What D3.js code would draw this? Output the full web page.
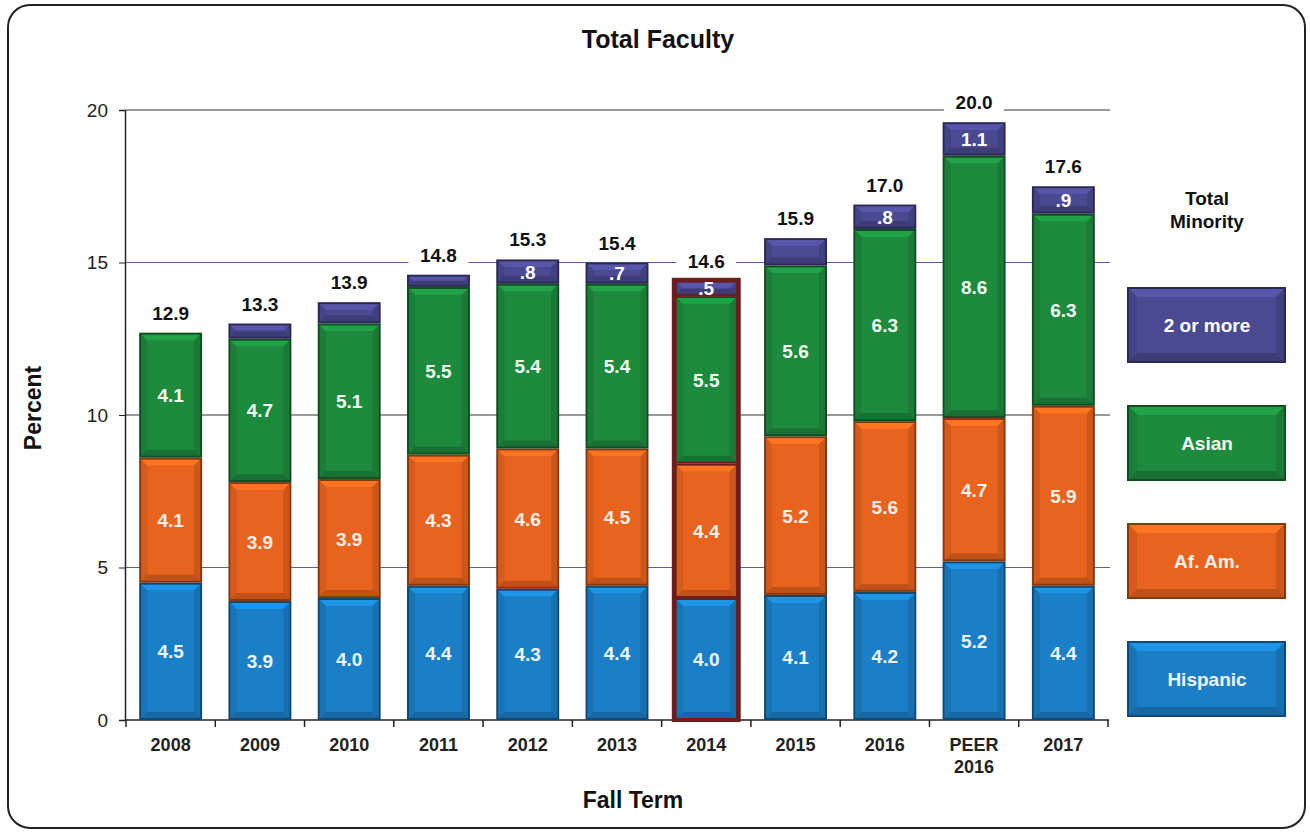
<!DOCTYPE html>
<html lang="en">
<head>
<meta charset="UTF-8" />
<title>Total Faculty</title>
<script src="https://cdn.jsdelivr.net/npm/d3@7"></script>
<style>
  body { margin: 0; background: #fff; }
  text { font-family: Arial, "Liberation Sans", sans-serif; }
</style>
</head>
<body>
<script>
// data
var categories = ["2008", "2009", "2010", "2011", "2012", "2013", "2014", "2015", "2016", "PEER 2016", "2017"];
var hispanic  = [4.5, 3.9, 4.0, 4.4, 4.3, 4.4, 4.0, 4.1, 4.2, 5.2, 4.4];
var afAm      = [4.1, 3.9, 3.9, 4.3, 4.6, 4.5, 4.4, 5.2, 5.6, 4.7, 5.9];
var asian     = [4.1, 4.7, 5.1, 5.5, 5.4, 5.4, 5.5, 5.6, 6.3, 8.6, 6.3];
var twoOrMore = [0.0, 0.5, 0.7, 0.4, 0.8, 0.7, 0.5, 0.9, 0.8, 1.1, 0.9];
var showTwo   = [false, false, false, false, true, true, true, false, true, true, true];
var totals    = [12.9, 13.3, 13.9, 14.8, 15.3, 15.4, 14.6, 15.9, 17.0, 20.0, 17.6];
var highlight = "2014";
var yTicks = [0, 5, 10, 15, 20];

var seriesKeys = ["hispanic", "afAm", "asian", "two"];
var seriesNames = {hispanic: "Hispanic", afAm: "Af. Am.", asian: "Asian", two: "2 or more"};
var colors = {hispanic: "#1a7fc6", afAm: "#e8631d", asian: "#1d8a3d", two: "#4a4992"};
var textCol = {hispanic: "#eef6ff", afAm: "#fff0ec", asian: "#f2fff4", two: "#ffffff"};

var rows = categories.map(function(c, i) {
    return {cat: c, hispanic: hispanic[i], afAm: afAm[i], asian: asian[i], two: twoOrMore[i], i: i};
});

var W = 1310, H = 833;
var svg = d3.select("body").append("svg").attr("width", W).attr("height", H);

// outer frame
svg.append("rect").attr("x", 8).attr("y", 5).attr("width", 1297).attr("height", 823)
    .attr("rx", 22).attr("fill", "#fff").attr("stroke", "#222").attr("stroke-width", 2);

var x = d3.scaleBand().domain(categories).range([126, 1108])
    .paddingInner(0.295).paddingOuter(0.1475);
var y = d3.scaleLinear().domain([0, 20]).range([720, 110]);

// title + axis titles
svg.append("text").attr("x", 658).attr("y", 48).attr("text-anchor", "middle")
    .attr("font-size", 25).attr("font-weight", "bold").attr("fill", "#111").text("Total Faculty");
svg.append("text").attr("transform", "translate(41,408) rotate(-90)").attr("text-anchor", "middle")
    .attr("font-size", 23).attr("font-weight", "bold").attr("fill", "#111").text("Percent");
svg.append("text").attr("x", 633).attr("y", 808).attr("text-anchor", "middle")
    .attr("font-size", 23).attr("font-weight", "bold").attr("fill", "#111").text("Fall Term");

// gridlines
svg.append("g").selectAll("line").data(yTicks.slice(1)).enter().append("line")
    .attr("x1", 126).attr("x2", 1110)
    .attr("y1", function(d) { return y(d); }).attr("y2", function(d) { return y(d); })
    .attr("stroke", function(d) { return d % 10 == 0 ? "#333" : "#5b5ba3"; })
    .attr("stroke-width", 1.2);

// y axis
var yAxis = svg.append("g").attr("transform", "translate(125,0)")
    .call(d3.axisLeft(y).tickValues(yTicks).tickSize(6).tickPadding(11));
yAxis.select(".domain").attr("stroke", "#222").attr("stroke-width", 1.5);
yAxis.selectAll("line").attr("stroke", "#222");
yAxis.selectAll("text").attr("font-size", 19).attr("fill", "#222")
    .attr("font-family", "Arial, 'Liberation Sans', sans-serif");

// x axis baseline with ticks at category boundaries
svg.append("line").attr("x1", 125).attr("x2", 1109).attr("y1", 720).attr("y2", 720)
    .attr("stroke", "#222").attr("stroke-width", 1.5);
var step = x.step();
svg.append("g").selectAll("line").data(d3.range(categories.length + 1)).enter().append("line")
    .attr("x1", function(i) { return x.range()[0] + i * step; })
    .attr("x2", function(i) { return x.range()[0] + i * step; })
    .attr("y1", 720).attr("y2", 727).attr("stroke", "#222").attr("stroke-width", 1.5);

var xl = svg.append("g").selectAll("text").data(categories).enter().append("text")
    .attr("x", function(d) { return x(d) + x.bandwidth() / 2; })
    .attr("y", 751).attr("text-anchor", "middle")
    .attr("font-size", 18).attr("font-weight", "bold").attr("fill", "#222");
xl.each(function(d) {
    var parts = d.split(" ");
    var t = d3.select(this);
    parts.forEach(function(p, k) {
        t.append("tspan").attr("x", x(d) + x.bandwidth() / 2).attr("dy", k == 0 ? 0 : 22).text(p);
    });
});

// beveled box helper
function bevel(sel, bx, by, bw, bh, c, b, edge) {
    var base = d3.color(c);
    var g = sel.append("g");
    b = Math.min(b, bh / 3);
    g.append("rect").attr("x", bx).attr("y", by).attr("width", bw).attr("height", bh)
        .attr("fill", edge || base.darker(1.6));
    var ix = bx + 2, iy = by + 2, iw = bw - 4, ih = bh - 4;
    g.append("rect").attr("x", ix).attr("y", iy).attr("width", iw).attr("height", ih)
        .attr("fill", base.darker(0.55));
    g.append("polygon").attr("points", [[ix, iy], [ix + iw, iy], [ix + iw - b, iy + b], [ix + b, iy + b]].join(" "))
        .attr("fill", base.brighter(0.45));
    g.append("polygon").attr("points", [[ix, iy], [ix + b, iy + b], [ix + b, iy + ih - b], [ix, iy + ih]].join(" "))
        .attr("fill", base.darker(0.25));
    g.append("polygon").attr("points", [[ix + iw, iy], [ix + iw - b, iy + b], [ix + iw - b, iy + ih - b], [ix + iw, iy + ih]].join(" "))
        .attr("fill", base.darker(0.35));
    g.append("rect").attr("x", ix + b).attr("y", iy + b).attr("width", Math.max(0, iw - 2 * b))
        .attr("height", Math.max(0, ih - 2 * b)).attr("fill", base);
    return g;
}

// stacked bars
var stack = d3.stack().keys(seriesKeys)(rows);
var bars = svg.append("g");
stack.forEach(function(layer) {
    var key = layer.key;
    layer.forEach(function(s) {
        var d = s.data;
        if (d[key] <= 0) return;
        var y0 = y(s[1]), y1 = y(s[0]);
        var edge = d.cat == highlight ? "#6e1d1d" : null;
        bevel(bars, x(d.cat), y0, x.bandwidth(), y1 - y0, colors[key], 6, edge);
        var show = key == "two" ? showTwo[d.i] : true;
        if (show) {
            var lbl = d3.format(".1f")(d[key]);
            if (lbl.charAt(0) == "0") lbl = lbl.slice(1);
            bars.append("text").attr("x", x(d.cat) + x.bandwidth() / 2).attr("y", (y0 + y1) / 2 + 7)
                .attr("text-anchor", "middle").attr("font-size", 19).attr("font-weight", "bold")
                .attr("fill", textCol[key]).text(lbl);
        }
    });
});

// highlighted bar outline
var topLayer = stack[stack.length - 1];
topLayer.forEach(function(s) {
    if (s.data.cat != highlight) return;
    svg.append("rect").attr("x", x(s.data.cat) - 1).attr("y", y(s[1]) - 1)
        .attr("width", x.bandwidth() + 2).attr("height", y(0) - y(s[1]) + 1)
        .attr("fill", "none").attr("stroke", "#6e1d1d").attr("stroke-width", 4);
});

// totals above bars
topLayer.forEach(function(s, i) {
    var cx = x(s.data.cat) + x.bandwidth() / 2, ty = y(s[1]) - 20;
    svg.append("rect").attr("x", cx - 30).attr("y", ty - 13).attr("width", 60).attr("height", 24).attr("fill", "#fff");
    svg.append("text").attr("x", cx).attr("y", ty + 7).attr("text-anchor", "middle")
        .attr("font-size", 19).attr("font-weight", "bold").attr("fill", "#111")
        .text(d3.format(".1f")(totals[i]));
});

// legend
var lg = svg.append("g");
lg.append("text").attr("x", 1207).attr("y", 205).attr("text-anchor", "middle")
    .attr("font-size", 19).attr("font-weight", "bold").attr("fill", "#111").text("Total");
lg.append("text").attr("x", 1207).attr("y", 228).attr("text-anchor", "middle")
    .attr("font-size", 19).attr("font-weight", "bold").attr("fill", "#111").text("Minority");
seriesKeys.slice().reverse().forEach(function(k, j) {
    var ly = 287 + j * 118;
    bevel(lg, 1127, ly, 159, 76, colors[k], 8);
    lg.append("text").attr("x", 1207).attr("y", ly + 45).attr("text-anchor", "middle")
        .attr("font-size", 19).attr("font-weight", "bold").attr("fill", textCol[k]).text(seriesNames[k]);
});
</script>
</body>
</html>
